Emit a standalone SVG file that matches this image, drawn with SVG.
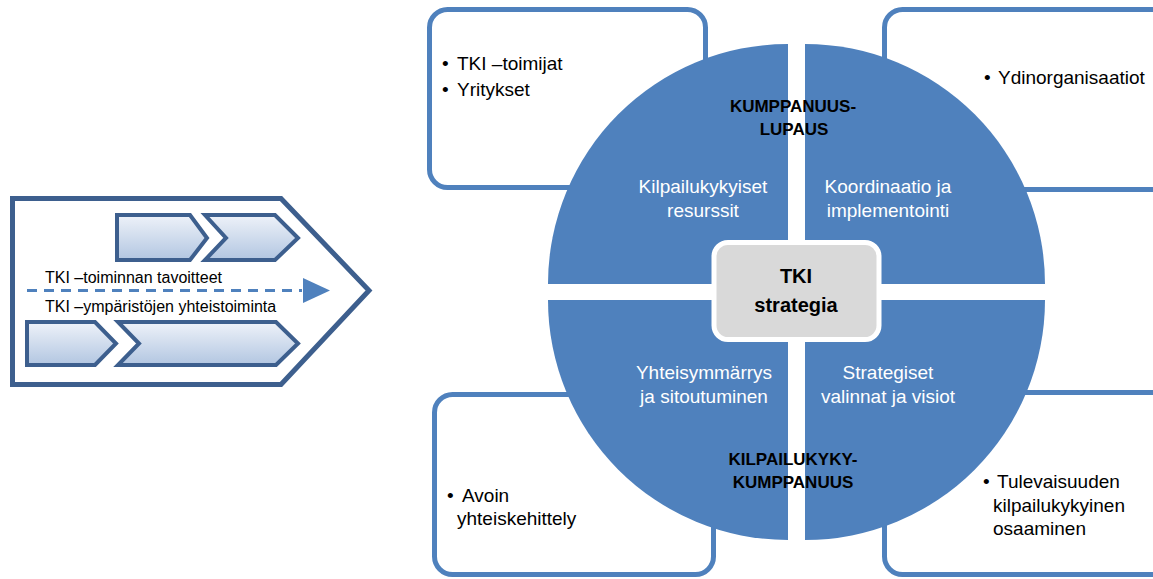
<svg xmlns="http://www.w3.org/2000/svg" width="1153" height="579" viewBox="0 0 1153 579">
<style>
.box{fill:#fff;stroke:#4f81bd;stroke-width:5}
.quad{fill:#4f81bd}
.t{font-family:"Liberation Sans",Arial,sans-serif;font-size:19px;fill:#000}
.qt{font-family:"Liberation Sans",Arial,sans-serif;font-size:19px;fill:#fff;text-anchor:middle}
.bt{font-family:"Liberation Sans",Arial,sans-serif;font-size:17px;font-weight:bold;fill:#000;text-anchor:middle}
.ct{font-family:"Liberation Sans",Arial,sans-serif;font-size:20px;font-weight:bold;fill:#000;text-anchor:middle}
.lt{font-family:"Liberation Sans",Arial,sans-serif;font-size:16px;fill:#000}
.chev{fill:url(#g);stroke:#3d5f8e;stroke-width:4;stroke-linejoin:miter}
</style>
<defs>
<linearGradient id="g" x1="0" y1="0" x2="0" y2="1">
<stop offset="0" stop-color="#eef2f9"/>
<stop offset="1" stop-color="#b2c6e1"/>
</linearGradient>
</defs>
<rect width="1153" height="579" fill="#fff"/>

<g id="process-arrow">
<polygon points="12.5,198.5 281,198.5 369,290.5 281,384.5 12.5,384.5" fill="#fff" stroke="#3d5f8e" stroke-width="5"/>
<polygon class="chev" points="117,215 190,215 207,238 190,260 117,260"/>
<polygon class="chev" points="205,215 275,215 298,238 275,260 205,260 226,238"/>
<polygon class="chev" points="27,322 95,322 116,343.5 95,365 27,365"/>
<polygon class="chev" points="118,322 276,322 298,343.5 276,365 118,365 139,343.5"/>
<line x1="27" y1="290.5" x2="302" y2="290.5" stroke="#4f81bd" stroke-width="3" stroke-dasharray="10,7"/>
<polygon points="303,278 330,290.5 303,303" fill="#4f81bd"/>
<text class="lt" x="45" y="283">TKI –toiminnan tavoitteet</text>
<text class="lt" x="45" y="312">TKI –ympäristöjen yhteistoiminta</text>
</g>

<g id="box-tl">
<rect class="box" x="429.5" y="9.5" width="276" height="178" rx="18"/>
<text class="t" x="442" y="70">•</text><text class="t" x="457" y="70">TKI –toimijat</text>
<text class="t" x="442" y="96">•</text><text class="t" x="457" y="96">Yritykset</text>
</g>
<g id="box-tr">
<rect class="box" x="884.5" y="9.5" width="300" height="180" rx="18"/>
<text class="t" x="984" y="84">•</text><text class="t" x="998" y="84">Ydinorganisaatiot</text>
</g>
<g id="box-bl">
<rect class="box" x="434.5" y="394.5" width="279" height="180" rx="18"/>
<text class="t" x="447" y="502">•</text><text class="t" x="462" y="502">Avoin</text>
<text class="t" x="457" y="525">yhteiskehittely</text>
</g>
<g id="box-br">
<rect class="box" x="884.5" y="392.5" width="300" height="182" rx="18"/>
<text class="t" x="983" y="488">•</text><text class="t" x="997" y="488">Tulevaisuuden</text>
<text class="t" x="993" y="512">kilpailukykyinen</text>
<text class="t" x="993" y="535">osaaminen</text>
</g>

<g id="quad-tl">
<path class="quad" d="M788,284 L548,284 A240,240 0 0 1 788,44 Z"/>
<text class="qt" x="703" y="193">Kilpailukykyiset</text>
<text class="qt" x="703" y="217">resurssit</text>
</g>
<g id="quad-tr">
<path class="quad" d="M805,284 L805,44 A240,240 0 0 1 1045,284 Z"/>
<text class="qt" x="888" y="193">Koordinaatio ja</text>
<text class="qt" x="888" y="217">implementointi</text>
</g>
<g id="quad-bl">
<path class="quad" d="M788,300 L788,540 A240,240 0 0 1 548,300 Z"/>
<text class="qt" x="704" y="379">Yhteisymmärrys</text>
<text class="qt" x="704" y="403">ja sitoutuminen</text>
</g>
<g id="quad-br">
<path class="quad" d="M805,300 L1045,300 A240,240 0 0 1 805,540 Z"/>
<text class="qt" x="888" y="379">Strategiset</text>
<text class="qt" x="888" y="403">valinnat ja visiot</text>
</g>

<g id="label-top">
<text class="bt" x="793" y="112">KUMPPANUUS-</text>
<text class="bt" x="794" y="135">LUPAUS</text>
</g>
<g id="label-bottom">
<text class="bt" x="793" y="465">KILPAILUKYKY-</text>
<text class="bt" x="793" y="488">KUMPPANUUS</text>
</g>

<g id="center">
<rect x="714" y="242.5" width="165" height="97" rx="14" fill="#d9d9d9" stroke="#fff" stroke-width="5"/>
<text class="ct" x="796" y="283">TKI</text>
<text class="ct" x="796" y="312">strategia</text>
</g>
<g id="connectors"/>
</svg>
